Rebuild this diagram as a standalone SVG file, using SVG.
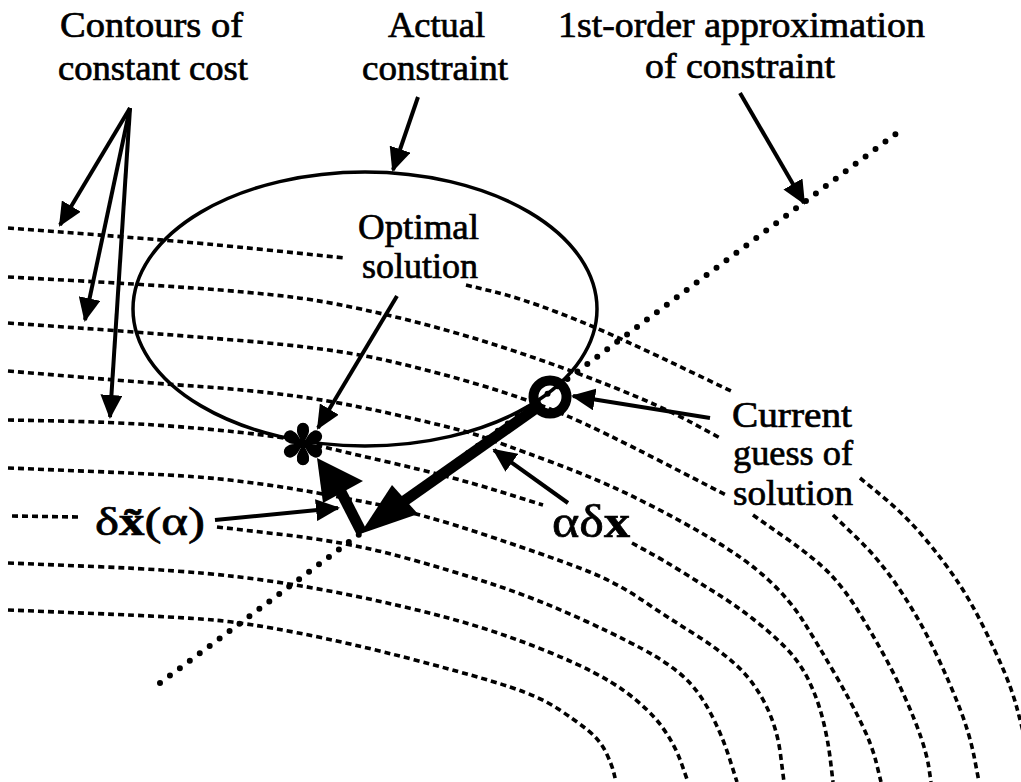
<svg xmlns="http://www.w3.org/2000/svg" width="1021" height="782" viewBox="0 0 1021 782">
<style>
  .bg { fill: #ffffff; }
  .contour { fill: none; stroke: #000; stroke-width: 3.6; stroke-dasharray: 6 4; stroke-linejoin: round; }
  .approx { fill: none; stroke: #000; stroke-width: 6; stroke-dasharray: 0 12.4; stroke-linecap: round; }
  .ellipse { fill: none; stroke: #000; stroke-width: 3.5; }
  .thin { fill: none; stroke: #000; stroke-width: 4; marker-end: url(#ah); }
  .thick { fill: none; stroke: #000; stroke-width: 11; stroke-linecap: butt; }
  .head { fill: #000; }
  .lbl { font-family: "Liberation Serif", "Times New Roman", serif; font-size: 36px; fill: #000; stroke: #000; stroke-width: 0.7; }
  .math { font-family: "Liberation Serif", "Times New Roman", serif; fill: #000; stroke: #000; stroke-width: 0.7; }
</style>
<defs>
  <marker id="ah" viewBox="0 0 24 22" refX="22" refY="11" markerWidth="24" markerHeight="22" markerUnits="userSpaceOnUse" orient="auto">
    <path d="M0,0 L24,11 L0,22 Z" fill="#000"/>
  </marker>
  <path id="petal" d="M0,0 C-2.5,-5 -6.5,-10 -6,-14 A6.1,6.1 0 1 1 6,-14 C6.5,-10 2.5,-5 0,0 Z" fill="#000"/>
</defs>
<rect class="bg" x="0" y="0" width="1021" height="782"/>

<g id="cost-contours">
  <path class="contour" d="M8,228 L54,231.5 Q100,235 150,239 Q200,243 272.5,250.5 L345,258 M466,285 L493,291.5 Q520,298 556.5,312 Q593,326 626.5,341.5 Q660,357 696.5,374.5 L733,392 M860,478 L882.5,496.5 Q905,515 924,537.5 Q943,560 956.5,580 Q970,600 982.5,625 Q995,650 1003.5,670 Q1012,690 1016.5,706.5 Q1021,723 1025.5,741.5 L1030,760"/>
  <path class="contour" d="M8,277 L72.5,280.5 Q137,284 193.5,288 Q250,292 291.5,297 Q333,302 391.5,316 Q450,330 506.5,348.5 Q563,367 613,387 Q663,407 691.5,422.5 L720,438 M833,515 L856.5,537.5 Q880,560 900,590 Q920,620 935,651.5 Q950,683 960,709 Q970,735 974.5,758.5 L979,782"/>
  <path class="contour" d="M8,323 L79,328 Q150,333 240,340.5 Q330,348 380,359 Q430,370 480,385 Q530,400 565,415 Q600,430 663,462.5 L726,495 M753,515 L785,537.5 Q817,560 831,575 Q845,590 857.5,610 Q870,630 882.5,652.5 Q895,675 905,697.5 Q915,720 921,737.5 Q927,755 929,768.5 L931,782"/>
  <path class="contour" d="M8,371 L79,377 Q150,383 200,386.5 Q250,390 295,396 Q340,402 401.5,416 Q463,430 481.5,436.5 Q500,443 550,461.5 Q600,480 640,500 Q680,520 713.5,540 Q747,560 768.5,580 Q790,600 803.5,621.5 Q817,643 833.5,671.5 Q850,700 861,722.5 Q872,745 876.5,763.5 L881,782"/>
  <path class="contour" d="M8,420 L59,421 Q110,422 155,425 Q200,428 241.5,432.5 Q283,437 303,442 Q323,447 388,462 Q453,477 498,491 L543,505 M632,543 L647.5,551.5 Q663,560 681.5,571.5 Q700,583 717.5,594 Q735,605 752.5,618.5 Q770,632 785,647 Q800,662 809,681 Q818,700 823,720 Q828,740 830.5,761 L833,782"/>
  <path class="contour" d="M8,468 L94,471.5 Q180,475 215,478.5 Q250,482 285,487.5 Q320,493 370,503 Q420,513 490,536.5 Q560,560 588.5,571.5 Q617,583 642,600 Q667,617 692,632.5 Q717,648 735,664 Q753,680 765,703.5 Q777,727 780.5,754.5 L784,782"/>
  <path class="contour" d="M12,516 L78,517 M217,527 L282,534.5 Q347,542 398.5,556 Q450,570 495,585 Q540,600 586.5,621.5 Q633,643 654,655.5 Q675,668 687.5,680.5 Q700,693 711,714 Q722,735 729.5,758.5 L737,782"/>
  <path class="contour" d="M8,563 L94,566.5 Q180,570 235,576.5 Q290,583 345,594 Q400,605 450,618.5 Q500,632 550,652.5 Q600,673 625,691.5 Q650,710 662.5,727.5 Q675,745 681.5,763.5 L688,782"/>
  <path class="contour" d="M8,610 L94,613.5 Q180,617 213.5,620 Q247,623 298.5,633 Q350,643 415,660 Q480,677 510,687 Q540,697 557.5,708.5 Q575,720 587.5,730 Q600,740 606,752.5 Q612,765 614,773.5 L616,782"/>
</g>

<g id="actual-constraint">
  <ellipse class="ellipse" cx="365" cy="309" rx="232" ry="137"/>
</g>

<g id="first-order-approximation">
  <path class="approx" d="M160,683 L897,133"/>
</g>

<g id="optimal-solution-point">
  <g transform="translate(303,444)">
    <use href="#petal"/>
    <use href="#petal" transform="rotate(60)"/>
    <use href="#petal" transform="rotate(120)"/>
    <use href="#petal" transform="rotate(180)"/>
    <use href="#petal" transform="rotate(240)"/>
    <use href="#petal" transform="rotate(300)"/>
    <circle r="4.5" fill="#000"/>
  </g>
</g>

<g id="current-guess-point">
  <circle cx="550" cy="397" r="16.5" fill="none" stroke="#000" stroke-width="10"/>
</g>

<g id="connectors">
  <path class="thin" d="M130,108 L60,225"/>
  <path class="thin" d="M130,108 L85,320"/>
  <path class="thin" d="M130,108 L110,417"/>
  <path class="thin" d="M418,97 L393,170"/>
  <path class="thin" d="M740,93 L804,203"/>
  <path class="thin" d="M397,296 L318,428"/>
  <path class="thin" d="M710,418 L573,396"/>
  <path class="thin" d="M568,503 L494,450"/>
  <path class="thin" d="M215,520 L338,508"/>
  <g id="step-alpha-dx">
    <path class="thick" d="M542,404 L400,504"/>
    <polygon class="head" points="360,534 392,485 418,514"/>
  </g>
  <g id="step-dx-tilde">
    <path class="thick" d="M362,533 L340,490"/>
    <polygon class="head" points="317,458 363,481 323,503"/>
  </g>
</g>

<g id="label-contours">
  <text class="lbl" x="60" y="37" textLength="183" lengthAdjust="spacingAndGlyphs">Contours of</text>
  <text class="lbl" x="58" y="80" textLength="190" lengthAdjust="spacingAndGlyphs">constant cost</text>
</g>
<g id="label-actual">
  <text class="lbl" x="388" y="37" textLength="97" lengthAdjust="spacingAndGlyphs">Actual</text>
  <text class="lbl" x="362" y="80" textLength="146" lengthAdjust="spacingAndGlyphs">constraint</text>
</g>
<g id="label-approx">
  <text class="lbl" x="558" y="37" textLength="367" lengthAdjust="spacingAndGlyphs">1st-order approximation</text>
  <text class="lbl" x="645" y="78" textLength="190" lengthAdjust="spacingAndGlyphs">of constraint</text>
</g>
<g id="label-optimal">
  <text class="lbl" x="358" y="239" textLength="121" lengthAdjust="spacingAndGlyphs">Optimal</text>
  <text class="lbl" x="362" y="278" textLength="116" lengthAdjust="spacingAndGlyphs">solution</text>
</g>
<g id="label-current">
  <text class="lbl" x="732" y="427" textLength="120" lengthAdjust="spacingAndGlyphs">Current</text>
  <text class="lbl" x="733" y="465" textLength="120" lengthAdjust="spacingAndGlyphs">guess of</text>
  <text class="lbl" x="733" y="505" textLength="120" lengthAdjust="spacingAndGlyphs">solution</text>
</g>
<g id="label-alpha-dx">
  <text class="math" x="552" y="537" font-size="46" textLength="78" lengthAdjust="spacingAndGlyphs">αδ<tspan font-weight="bold">x</tspan></text>
</g>
<g id="label-dx-tilde">
  <text class="math" x="95" y="535" font-size="40" textLength="110" lengthAdjust="spacingAndGlyphs">δ<tspan font-weight="bold">x̃</tspan>(α)</text>
</g>
</svg>
